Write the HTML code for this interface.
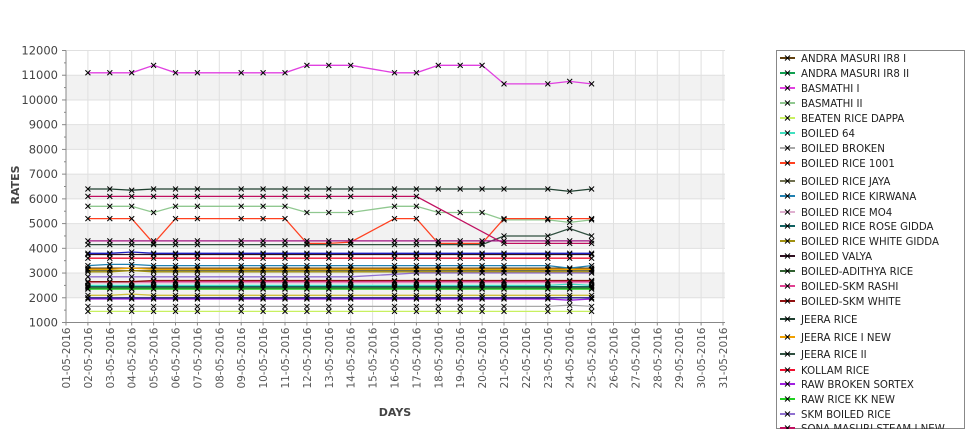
<!DOCTYPE html>
<html><head><meta charset="utf-8"><style>
html,body{margin:0;padding:0;background:#fff;width:975px;height:429px;overflow:hidden}
svg{font-family:"DejaVu Sans","Liberation Sans",sans-serif;overflow:hidden;display:block}
</style></head><body>
<svg id="chart" width="975" height="429" xmlns="http://www.w3.org/2000/svg">
<g id="plot"></g>
<g id="axes"></g>
<g id="series"></g>
<g id="legend"></g>
</svg>
<script>
const days = [2,3,4,5,6,7,9,10,11,12,13,14,16,17,18,19,20,21,23,24,25];
const yTicks = [1000,2000,3000,4000,5000,6000,7000,8000,9000,10000,11000,12000];
const seriesNames = ["ANDRA MASURI IR8 I","ANDRA MASURI IR8 II","BASMATHI I","BASMATHI II","BEATEN RICE DAPPA","BOILED 64","BOILED BROKEN","BOILED RICE 1001","BOILED RICE JAYA","BOILED RICE KIRWANA","BOILED RICE MO4","BOILED RICE ROSE GIDDA","BOILED RICE WHITE GIDDA","BOILED VALYA","BOILED-ADITHYA RICE","BOILED-SKM RASHI","BOILED-SKM WHITE","JEERA RICE","JEERA RICE I NEW","JEERA RICE II","KOLLAM RICE","RAW BROKEN SORTEX","RAW RICE KK NEW","SKM BOILED RICE","SONA MASURI STEAM I NEW","SONA MASURI STEAM II","SONA MASURI RAW","STEAM RICE","TABLE RICE"];
const seriesColors = ["#604010","#10a050","#e040e0","#90c890","#c8f060","#40e0c0","#a8a8a8","#ff4020","#707050","#2080b0","#e0b0d0","#106060","#a09010","#301020","#306030","#e04090","#901010","#204030","#f0a000","#305040","#f01030","#a020e0","#20d020","#9070d0","#c01060","#a01080","#2020c0","#d0c040","#202080"];
const s0=[3200,3200,3200,3200,3200,3200,3200,3200,3200,3200,3200,3200,3200,3200,3200,3200,3200,3200,3200,3200,3200];
const s1=[2450,2450,2450,2450,2450,2450,2450,2450,2450,2450,2450,2450,2450,2450,2450,2450,2450,2450,2450,2450,2450];
const s2=[11100,11100,11100,11400,11100,11100,11100,11100,11100,11400,11400,11400,11100,11100,11400,11400,11400,10650,10650,10750,10650];
const s3=[5700,5700,5700,5450,5700,5700,5700,5700,5700,5450,5450,5450,5700,5700,5450,5450,5450,5150,5150,5050,5150];
const s4=[1450,1450,1450,1450,1450,1450,1450,1450,1450,1450,1450,1450,1450,1450,1450,1450,1450,1450,1450,1450,1450];
const s5=[2500,2500,2500,2500,2500,2500,2500,2500,2500,2500,2500,2500,2500,2500,2500,2500,2500,2500,2500,2550,2500];
const s6=[1650,1650,1650,1650,1650,1650,1650,1650,1650,1650,1650,1650,1650,1650,1650,1650,1650,1650,1650,1700,1650];
const s7=[5200,5200,5200,4200,5200,5200,5200,5200,5200,4200,4200,4250,5200,5200,4200,4200,4200,5200,5200,5200,5200];
const s8=[3100,3100,3100,3100,3100,3100,3100,3100,3100,3100,3100,3100,3100,3100,3100,3100,3100,3100,3100,3100,3100];
const s9=[3300,3350,3350,3300,3300,3300,3300,3300,3300,3300,3300,3300,3300,3300,3300,3300,3300,3300,3300,3200,3300];
const s10=[2600,2600,2600,2600,2600,2600,2600,2600,2600,2600,2600,2600,2600,2600,2600,2600,2600,2600,2600,2600,2600];
const s11=[2450,2450,2450,2450,2450,2450,2450,2450,2450,2450,2450,2450,2450,2450,2450,2450,2450,2450,2450,2450,2450];
const s12=[3050,3050,3100,3050,3050,3050,3050,3050,3050,3050,3050,3050,3050,3050,3050,3050,3050,3050,3050,3050,3050];
const s13=[3750,3750,3750,3750,3750,3750,3750,3750,3750,3750,3750,3750,3750,3750,3750,3750,3750,3750,3750,3750,3750];
const s14=[2400,2400,2400,2400,2400,2400,2400,2400,2400,2400,2400,2400,2400,2400,2400,2400,2400,2400,2400,2400,2400];
const s15=[2650,2650,2650,2650,2650,2650,2650,2650,2650,2650,2650,2650,2650,2650,2650,2650,2650,2650,2650,2650,2650];
const s16=[2650,2650,2650,2700,2700,2700,2700,2700,2700,2700,2700,2700,2700,2700,2700,2700,2700,2700,2700,2700,2700];
const s17=[6400,6400,6350,6400,6400,6400,6400,6400,6400,6400,6400,6400,6400,6400,6400,6400,6400,6400,6400,6300,6400];
const s18=[3150,3150,3200,3150,3150,3150,3150,3150,3150,3150,3150,3150,3150,3150,3150,3150,3150,3150,3150,3150,3150];
const s19=[4150,4150,4150,4150,4150,4150,4150,4150,4150,4150,4150,4150,4150,4150,4150,4150,4150,4500,4500,4800,4500];
const s20=[3600,3600,3600,3600,3600,3600,3600,3600,3600,3600,3600,3600,3600,3600,3600,3600,3600,3600,3600,3600,3600];
const s21=[1950,1950,1950,1950,1950,1950,1950,1950,1950,1950,1950,1950,1950,1950,1950,1950,1950,1950,1950,1900,1950];
const s22=[2350,2350,2350,2350,2350,2350,2350,2350,2350,2350,2350,2350,2350,2350,2350,2350,2350,2350,2350,2350,2350];
const s23=[2850,2850,2850,2850,2850,2850,2850,2850,2850,2850,2850,2850,2950,3000,3000,3000,3000,3000,3000,3000,3000];
const s24=[6100,6100,6100,6100,6100,6100,6100,6100,6100,6100,6100,6100,6100,6100,null,null,null,4200,4200,4200,4200];
const s25=[4300,4300,4300,4300,4300,4300,4300,4300,4300,4300,4300,4300,4300,4300,4300,4300,4300,4300,4300,4300,4300];
const s26=[3800,3800,3850,3800,3800,3800,3800,3800,3800,3800,3800,3800,3800,3800,3800,3800,3800,3800,3800,3800,3800];
const s27=[2100,2100,2150,2100,2100,2100,2100,2100,2100,2100,2100,2100,2100,2100,2100,2100,2100,2100,2100,2100,2100];
const s28=[2000,2000,2000,2000,2000,2000,2000,2000,2000,2000,2000,2000,2000,2000,2000,2000,2000,2000,2000,2000,2000];
const seriesValues=[s0,s1,s2,s3,s4,s5,s6,s7,s8,s9,s10,s11,s12,s13,s14,s15,s16,s17,s18,s19,s20,s21,s22,s23,s24,s25,s26,s27,s28];

const NS="http://www.w3.org/2000/svg";
const L=66,R=725,T=50.5,B=322.5,yMin=1000,yMax=12000;
function xs(d){return L+(d-1)*(R-2-L)/30;}
function ys(v){return B-(v-yMin)*(B-T)/(yMax-yMin);}
function mk(tag,attrs,parent){const e=document.createElementNS(NS,tag);for(const k in attrs)e.setAttribute(k,attrs[k]);parent.appendChild(e);return e;}
const plot=document.getElementById('plot'),axes=document.getElementById('axes'),sg=document.getElementById('series'),lg=document.getElementById('legend');
mk('rect',{x:L,y:T,width:R-L,height:B-T,fill:'#fff'},plot);
for(let v=2000;v<12000;v+=2000){const r=mk('rect',{x:L,y:ys(v+1000),width:R-L,height:ys(v)-ys(v+1000),fill:'#f2f2f2'},plot);

}
yTicks.forEach(v=>{const l=mk('line',{x1:L,x2:R,y1:ys(v),y2:ys(v),stroke:'#e0e0e0','stroke-width':1},plot);


const t=mk('text',{x:58,y:ys(v)+4,'text-anchor':'end','font-size':'11.5',fill:'#444'},axes);t.textContent=v;


mk('line',{x1:L-4,x2:L,y1:ys(v),y2:ys(v),stroke:'#888'},axes);
if(v<12000)mk('line',{x1:L-2,x2:L,y1:ys(v+500),y2:ys(v+500),stroke:'#888'},axes);});
for(let d=1;d<=31;d++){const x=xs(d);
const g=mk('line',{x1:x,x2:x,y1:T,y2:B,stroke:'#e0e0e0'},plot);


mk('line',{x1:x,x2:x,y1:B,y2:B+3,stroke:'#888'},axes);
const t=mk('text',{x:0,y:0,'text-anchor':'end','font-size':'10.5',fill:'#555',transform:`translate(${x+4},${B+5}) rotate(-90)`},axes);
t.textContent=String(d).padStart(2,'0')+'-05-2016';

}
mk('line',{x1:L,x2:L,y1:T,y2:B,stroke:'#888'},axes);
mk('line',{x1:L,x2:R,y1:B,y2:B,stroke:'#888'},axes);
const xt=mk('text',{x:395,y:416,'text-anchor':'middle','font-size':'11','font-weight':'bold',fill:'#444'},axes);xt.textContent='DAYS';


const yt=mk('text',{x:0,y:0,'text-anchor':'middle','font-size':'11','font-weight':'bold',fill:'#444',transform:'translate(19,185) rotate(-90)'},axes);yt.textContent='RATES';


function cross(x,y,p){mk('path',{d:`M${x-2.5},${y-2.5}L${x+2.5},${y+2.5}M${x-2.5},${y+2.5}L${x+2.5},${y-2.5}`,stroke:'#000','stroke-width':1},p);}
seriesValues.forEach((vals,i)=>{const g=mk('g',{},sg);


const pts=[];vals.forEach((v,j)=>{if(v!==null)pts.push(xs(days[j]).toFixed(1)+','+ys(v).toFixed(1));});
mk('polyline',{points:pts.join(' '),fill:'none',stroke:seriesColors[i],'stroke-width':1.3},g);
vals.forEach((v,j)=>{if(v!==null)cross(xs(days[j]),ys(v),g);});});
const lb=mk('rect',{x:776.5,y:50.5,width:188,height:378,fill:'#fff',stroke:'#888'},lg);


const ly=[58,73,88,103,118,133,148,163,181,196,212,226,241,256,271,286,301,319,337,354,370,384,399,414,428];
seriesNames.forEach((n,i)=>{if(i>=ly.length)return;
const g=mk('g',{},lg);


const y=ly[i];
mk('line',{x1:780,x2:795,y1:y,y2:y,stroke:seriesColors[i],'stroke-width':2},g);
cross(787.5,y,g);
const t=mk('text',{x:801,y:y+4,'font-size':'10.2',fill:'#222'},g);t.textContent=n;});
</script>
</body></html>
